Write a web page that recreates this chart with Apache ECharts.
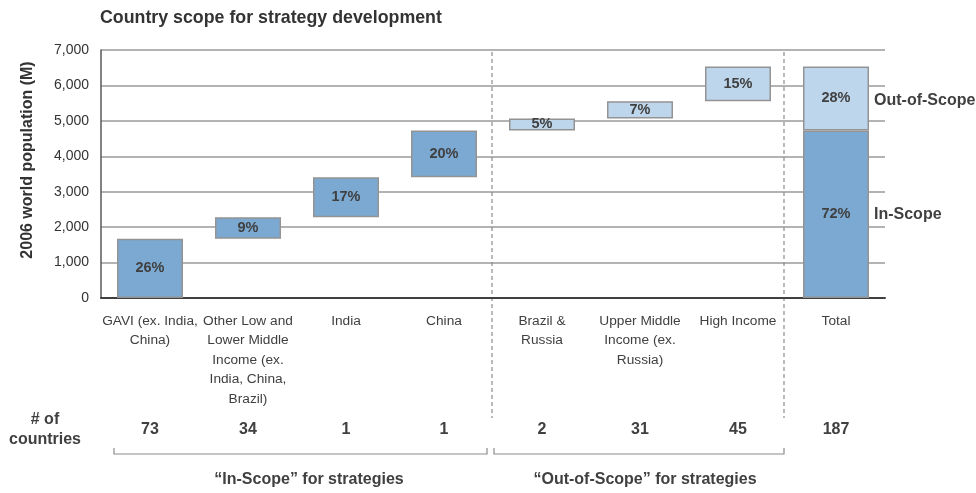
<!DOCTYPE html>
<html><head><meta charset="utf-8">
<script src="https://cdn.jsdelivr.net/npm/echarts@6/dist/echarts.min.js"></script>
<style>html,body{margin:0;padding:0;background:#fff}#c{width:976px;height:493px}</style>
</head><body><div id="c"></div>
<script>
// ---- data ----
const categories = ['GAVI (ex. India,\nChina)', 'Other Low and\nLower Middle\nIncome (ex.\nIndia, China,\nBrazil)', 'India', 'China', 'Brazil &\nRussia', 'Upper Middle\nIncome (ex.\nRussia)', 'High Income', 'Total'];
const inScopePop = [1670, 610, 1125, 1325];
const outScopePop = [340, 480, 985];
const inScopePct = ['26%', '9%', '17%', '20%'];
const outScopePct = ['5%', '7%', '15%'];
const totalInPct = '72%';
const totalOutPct = '28%';
const countryCounts = ['73', '34', '1', '1', '2', '31', '45', '187'];
const yMin = 0, yMax = 7000, yStep = 1000;
const titleText = 'Country scope for strategy development';
const yName = '2006 world population (M)';
const inGroupLabel = '\u201cIn-Scope\u201d for strategies';
const outGroupLabel = '\u201cOut-of-Scope\u201d for strategies';

// ---- build waterfall stacks ----
const base = [], inData = [], outData = [], labelsIn = [], labelsOut = [];
let cum = 0;
inScopePop.forEach((v, i) => { base.push(cum); inData.push(v); outData.push('-'); labelsIn.push(inScopePct[i]); labelsOut.push(''); cum += v; });
const inTotal = cum;
outScopePop.forEach((v, i) => { base.push(cum); inData.push('-'); outData.push(v); labelsIn.push(''); labelsOut.push(outScopePct[i]); cum += v; });
base.push(0); inData.push(inTotal); outData.push(cum - inTotal); labelsIn.push(totalInPct); labelsOut.push(totalOutPct);

const FONT = '"Liberation Sans", Arial, sans-serif';
const TXT = '#404040';
const DARK = '#7BA9D2';
const LIGHT = '#BED6EC';
const BORDER = '#939393';

const chart = echarts.init(document.getElementById('c'), null, {renderer: 'canvas'});
const barLabel = (arr) => ({
  show: true, position: 'inside', fontFamily: FONT, fontWeight: 'bold', fontSize: 14.5, color: TXT,
  formatter: p => arr[p.dataIndex]
});
chart.setOption({
  animation: false,
  textStyle: {fontFamily: FONT},
  title: {text: titleText, left: 100, top: 9, padding: 0,
    textStyle: {fontFamily: FONT, fontSize: 17.8, fontWeight: 'bold', color: '#333'}},
  grid: {left: 101, right: 91, top: 50, bottom: 195, containLabel: false},
  xAxis: {
    type: 'category', data: categories,
    axisLine: {show: true, lineStyle: {color: '#404040', width: 2}},
    axisTick: {show: false},
    axisLabel: {fontFamily: FONT, fontSize: 13.7, color: TXT, lineHeight: 19.5, margin: 13, interval: 0}
  },
  yAxis: {
    type: 'value', min: yMin, max: yMax, interval: yStep,
    axisLine: {show: true, lineStyle: {color: '#595959', width: 1.5}},
    axisTick: {show: false},
    splitLine: {show: true, lineStyle: {color: '#9A9A9A', width: 1.5}},
    axisLabel: {fontFamily: FONT, fontSize: 14, color: '#333', margin: 12,
      formatter: v => v.toLocaleString('en-US')}
  },
  series: [
    {type: 'bar', stack: 'w', data: base, barWidth: 66, silent: true,
      itemStyle: {color: 'rgba(0,0,0,0)', borderWidth: 0}, emphasis: {disabled: true}},
    {type: 'bar', stack: 'w', data: inData, barWidth: 66,
      itemStyle: {color: DARK, borderColor: BORDER, borderWidth: 1.5}, label: barLabel(labelsIn)},
    {type: 'bar', stack: 'w', data: outData, barWidth: 66,
      itemStyle: {color: LIGHT, borderColor: BORDER, borderWidth: 1.5}, label: barLabel(labelsOut)}
  ]
});

// ---- annotations positioned from the axes ----
const px = i => chart.convertToPixel({xAxisIndex: 0}, i);
const py = v => chart.convertToPixel({yAxisIndex: 0}, v);
const n = categories.length;
const step = px(1) - px(0);
const div1 = (px(inScopePop.length - 1) + px(inScopePop.length)) / 2 - 1;
const div2 = (px(n - 2) + px(n - 1)) / 2 - 3;
const g = [];
const bold16 = {fontFamily: FONT, fontSize: 16, fontWeight: 'bold', fill: TXT};
// y axis name
g.push({type: 'text', x: 28, y: 160, rotation: Math.PI / 2,
  style: Object.assign({}, bold16, {text: yName, align: 'center', verticalAlign: 'middle', fill: '#333'})});
// dashed separators
[div1, div2].forEach(x => g.push({type: 'line', shape: {x1: x, y1: 52, x2: x, y2: 418},
  style: {stroke: '#8C8C8C', lineWidth: 1.2, lineDash: [4, 3]}}));
// # of countries
g.push({type: 'text', x: 45, y: 430, style: Object.assign({}, bold16, {text: '# of\ncountries', align: 'center', verticalAlign: 'middle', lineHeight: 20})});
countryCounts.forEach((c, i) => g.push({type: 'text', x: px(i), y: 430,
  style: Object.assign({}, bold16, {text: c, align: 'center', verticalAlign: 'middle'})}));
// brackets
function bracket(x1, x2, label, lx) {
  g.push({type: 'polyline', shape: {points: [[x1, 448], [x1, 454], [x2, 454], [x2, 448]]},
    style: {stroke: '#8C8C8C', lineWidth: 1.2, fill: null}});
  g.push({type: 'text', x: lx, y: 480,
    style: Object.assign({}, bold16, {text: label, align: 'center', verticalAlign: 'middle'})});
}
bracket(px(0) - step / 2 + 13, div1 - 5, inGroupLabel, (px(1) + px(2)) / 2 + 12);
bracket(div1 + 2, div2, outGroupLabel, px(5) + 5);
// Total side labels
const totX = px(n - 1) + 33 + 5;
g.push({type: 'text', x: totX, y: py(cum - (cum - inTotal) / 2) + 2, style: Object.assign({}, bold16, {text: 'Out-of-Scope', align: 'left', verticalAlign: 'middle'})});
g.push({type: 'text', x: totX, y: py(inTotal / 2), style: Object.assign({}, bold16, {text: 'In-Scope', align: 'left', verticalAlign: 'middle'})});
chart.setOption({graphic: g});
</script>
</body></html>
